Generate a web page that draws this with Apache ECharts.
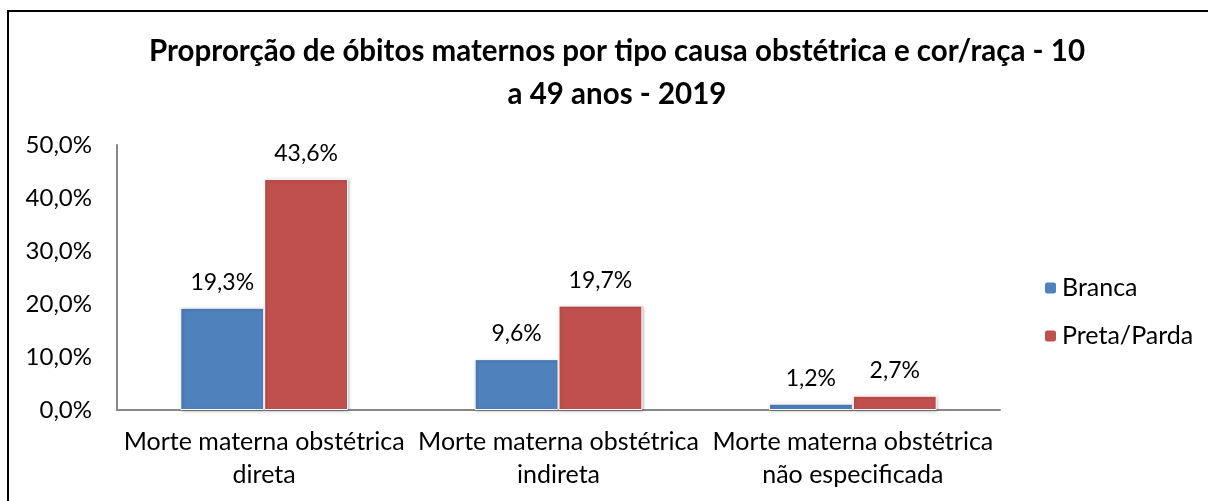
<!DOCTYPE html>
<html>
<head>
<meta charset="utf-8">
<script src="https://cdn.jsdelivr.net/npm/echarts@6/dist/echarts.min.js"></script>
<style>
html, body { margin: 0; padding: 0; background: #fff; }
#chart { width: 1208px; height: 501px; }
</style>
</head>
<body>
<div id="chart"></div>
<script>
var categorias = ['Morte materna obstétrica\ndireta', 'Morte materna obstétrica\nindireta', 'Morte materna obstétrica\nnão especificada']
var branca = [19.3, 9.6, 1.2]
var pretaParda = [43.6, 19.7, 2.7]
var yTicks = [0, 10, 20, 30, 40, 50]

var fonte = 'Lato, "Open Sans", sans-serif'
function pct (v) {
  return v.toFixed(1).replace('.', ',') + '%'
}

var labelSerie = {
  show: true,
  position: 'top',
  distance: 14,
  fontFamily: fonte,
  fontSize: 23,
  color: '#000',
  formatter: function (p) { return pct(p.value) }
}

var chart = echarts.init(document.getElementById('chart'))
chart.setOption({
  backgroundColor: '#fff',
  animation: false,
  textStyle: { fontFamily: fonte },
  graphic: [
    {
      type: 'rect',
      shape: { x: 8, y: 11, width: 1400, height: 700 },
      style: { fill: 'none', stroke: '#000', lineWidth: 2 }
    }
  ],
  title: {
    text: 'Proprorção de óbitos maternos por tipo causa obstétrica e cor/raça - 10\na 49 anos - 2019',
    left: 612,
    textAlign: 'center',
    top: 25,
    textStyle: {
      fontFamily: fonte,
      fontWeight: 'bold',
      fontSize: 29.5,
      lineHeight: 43,
      color: '#000'
    }
  },
  legend: {
    orient: 'vertical',
    left: 1038,
    top: 269,
    itemWidth: 13,
    itemHeight: 13,
    itemGap: 20,
    data: ['Branca', 'Preta/Parda'],
    textStyle: { fontFamily: fonte, fontSize: 25, lineHeight: 28, color: '#000' }
  },
  grid: { left: 117, right: 208, top: 145, bottom: 91 },
  xAxis: {
    type: 'category',
    data: categorias,
    axisLine: { lineStyle: { color: '#888', width: 2 } },
    axisTick: { show: false },
    axisLabel: {
      interval: 0,
      margin: 15,
      fontFamily: fonte,
      fontSize: 25,
      lineHeight: 33,
      color: '#000'
    }
  },
  yAxis: {
    type: 'value',
    min: yTicks[0],
    max: yTicks[yTicks.length - 1],
    interval: 10,
    axisLine: { show: true, lineStyle: { color: '#888', width: 2 } },
    axisTick: { show: false },
    splitLine: { show: false },
    axisLabel: {
      margin: 25,
      fontFamily: fonte,
      fontSize: 24,
      color: '#000',
      formatter: function (v) { return pct(v) }
    }
  },
  series: [
    {
      name: 'Branca',
      type: 'bar',
      data: branca,
      barGap: '0%',
      barCategoryGap: '43%',
      itemStyle: {
        color: '#4F81BD',
        borderColor: '#fff',
        borderWidth: 1,
        shadowBlur: 3,
        shadowColor: 'rgba(0,0,0,0.25)',
        shadowOffsetX: 1,
        shadowOffsetY: 1
      },
      label: labelSerie
    },
    {
      name: 'Preta/Parda',
      type: 'bar',
      data: pretaParda,
      itemStyle: {
        color: '#C0504D',
        borderColor: '#fff',
        borderWidth: 1,
        shadowBlur: 3,
        shadowColor: 'rgba(0,0,0,0.25)',
        shadowOffsetX: 1,
        shadowOffsetY: 1
      },
      label: labelSerie
    }
  ]
})
</script>
</body>
</html>
